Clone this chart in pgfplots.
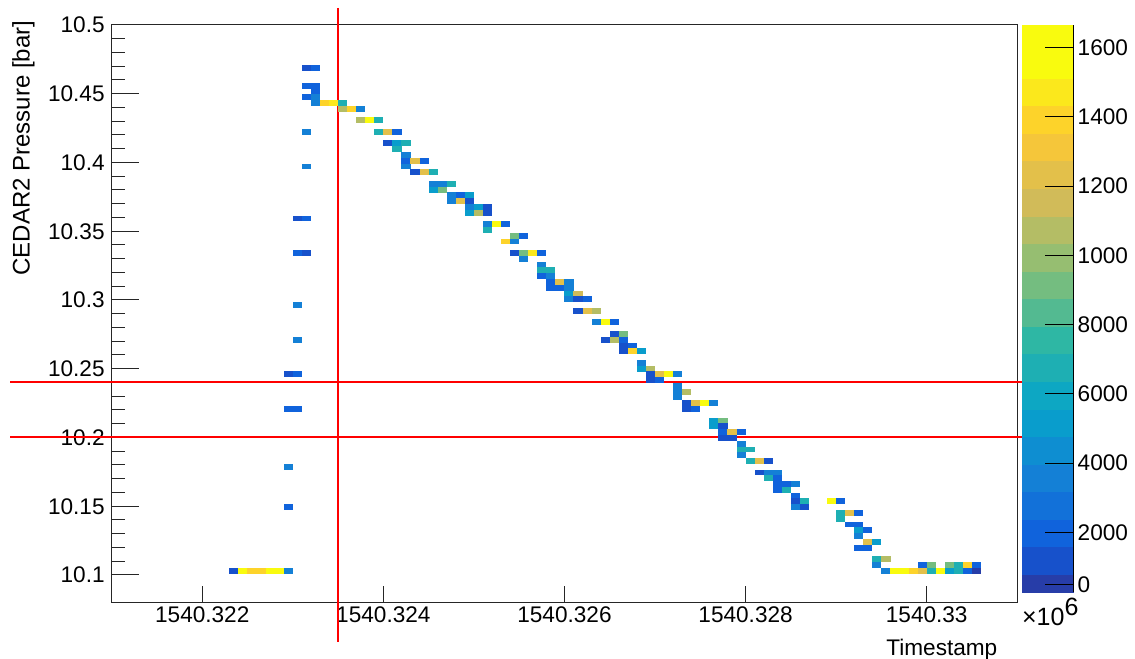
\documentclass[border=0pt]{standalone}
\usepackage{pgfplots}
\pgfplotsset{compat=1.18}
\usepackage{pgfplotstable}
\usepackage{fontspec}
\setmainfont{Liberation Sans}

\pgfdeclareplotmark{cell}{%
  \pgfpathrectangle{\pgfpoint{-2.29pt}{-1.47pt}}{\pgfpoint{4.58pt}{2.94pt}}%
  \pgfusepathqfill}

% x = timestamp - 1540320000 (s), y = pressure (bar), c = entries
\pgfplotstableread{
x y c
3150 10.4685 126
3250 10.4685 209
3150 10.4559 209
3250 10.4559 209
3250 10.4517 209
3150 10.4475 209
3250 10.4475 376
3250 10.4433 376
3350 10.4433 1378
3450 10.4433 1462
3550 10.4433 710
3550 10.4391 1044
3650 10.4391 1378
3750 10.4391 376
3150 10.4223 376
3150 10.3971 376
3050 10.3593 126
3150 10.3593 209
3050 10.3341 209
3150 10.3341 126
3050 10.2963 376
3050 10.2711 376
2950 10.2459 126
3050 10.2459 209
2950 10.2207 209
3050 10.2207 209
2950 10.1787 376
2950 10.1493 209
2350 10.1031 126
2450 10.1031 1545
2550 10.1031 1378
2650 10.1031 1378
2750 10.1031 1545
2850 10.1031 1545
2950 10.1031 376
3750 10.4307 1044
3850 10.4307 1628
3950 10.4307 710
3950 10.4223 710
4050 10.4223 1211
4150 10.4223 209
4050 10.4139 126
4150 10.4139 543
4250 10.4139 710
4150 10.4097 710
4250 10.4055 376
4250 10.4013 209
4350 10.4013 1211
4450 10.4013 209
4250 10.3971 376
4350 10.3929 126
4450 10.3929 1211
4550 10.3929 710
4550 10.3845 376
4650 10.3845 376
4750 10.3845 710
4550 10.3803 543
4650 10.3803 877
4750 10.3761 376
4850 10.3761 209
4950 10.3761 543
4750 10.3719 376
4850 10.3719 1211
4950 10.3719 126
4950 10.3677 376
5050 10.3677 543
5150 10.3677 126
4950 10.3635 543
5050 10.3635 1044
5150 10.3635 126
5150 10.3551 376
5250 10.3551 1545
5350 10.3551 209
5150 10.3509 710
5450 10.3467 877
5550 10.3467 209
5350 10.3425 1378
5450 10.3425 376
5450 10.3341 126
5550 10.3341 877
5650 10.3341 1462
5750 10.3341 209
5550 10.3299 376
5750 10.3257 376
5750 10.3215 710
5850 10.3215 710
5750 10.3173 209
5850 10.3173 376
5850 10.3131 209
5950 10.3131 1211
6050 10.3131 376
5850 10.3089 209
5950 10.3089 209
6050 10.3089 376
6050 10.3047 543
6150 10.3047 1128
6050 10.3005 376
6150 10.3005 126
6250 10.3005 209
6150 10.2921 126
6250 10.2921 1211
6350 10.2921 1044
6350 10.2837 376
6450 10.2837 1545
6550 10.2837 209
6550 10.2753 126
6650 10.2753 877
6450 10.2711 126
6550 10.2711 1044
6650 10.2711 209
6650 10.2669 126
6750 10.2669 209
6650 10.2627 126
6750 10.2627 1378
6850 10.2627 543
6850 10.2543 376
6850 10.2501 543
6950 10.2501 1044
6950 10.2459 126
7050 10.2459 1211
7150 10.2459 1545
7250 10.2459 376
6950 10.2417 126
7050 10.2417 209
7250 10.2375 376
7250 10.2333 376
7250 10.2291 376
7350 10.2333 1044
7350 10.2249 126
7450 10.2249 1211
7550 10.2249 1545
7650 10.2249 376
7350 10.2207 126
7450 10.2207 209
7650 10.2123 543
7750 10.2123 877
7650 10.2081 543
7750 10.2081 126
7750 10.2039 209
7850 10.2039 1211
7950 10.2039 209
7750 10.1997 126
7850 10.1997 126
7950 10.1955 376
7950 10.1913 710
8050 10.1913 710
7950 10.1871 376
8050 10.1829 710
8150 10.1829 1211
8250 10.1829 126
8150 10.1745 126
8250 10.1745 376
8350 10.1745 376
8250 10.1703 710
8350 10.1703 209
8350 10.1661 209
8450 10.1661 209
8550 10.1661 376
8350 10.1619 209
8450 10.1619 710
8550 10.1577 209
8550 10.1535 126
8650 10.1535 710
8550 10.1493 376
8650 10.1493 126
8950 10.1535 1545
9050 10.1535 209
9050 10.1451 710
9150 10.1451 1211
9250 10.1451 209
9050 10.1409 710
9150 10.1367 209
9250 10.1367 209
9250 10.1325 543
9350 10.1325 209
9250 10.1283 376
9350 10.1241 1211
9450 10.1241 543
9250 10.1199 209
9350 10.1199 209
9450 10.1115 710
9550 10.1115 1044
9450 10.1073 376
9950 10.1073 209
10050 10.1073 877
10250 10.1073 877
10350 10.1073 710
10450 10.1073 1378
10550 10.1073 209
9550 10.1031 376
9650 10.1031 1545
9750 10.1031 1628
9850 10.1031 1378
9950 10.1031 1211
10050 10.1031 710
10150 10.1031 1628
10250 10.1031 543
10350 10.1031 710
10450 10.1031 209
10550 10.1031 42
}\cells

\begin{document}
\begin{tikzpicture}
\begin{axis}[
  scale only axis, width=452.8pt, height=288.75pt,
  xmin=1000, xmax=11000, ymin=10.08, ymax=10.5,
  clip=false,
  axis line style={line width=0.5pt, black!85},
  tick style={black!85, line width=0.5pt},
  tick align=inside,
  xtick pos=left, ytick pos=left,
  xtick=\empty,
  extra x ticks={2000,4000,6000,8000,10000},
  extra x tick labels={1540.322,1540.324,1540.326,1540.328,1540.33},
  extra x tick style={major tick length=8.3pt},
  ytick={10.1,10.15,10.2,10.25,10.3,10.35,10.4,10.45,10.5},
  yticklabels={10.1,10.15,10.2,10.25,10.3,10.35,10.4,10.45,10.5},
  minor y tick num=4,
  major tick length=13.5pt, minor tick length=6.5pt,
  tick label style={font=\fontsize{11.3}{13}\selectfont},
  xticklabel style={yshift=1.5pt},
  xlabel={Timestamp},
  xlabel style={at={(axis description cs:0.9784,-0.0926)}, anchor=base east, inner sep=0pt, font=\fontsize{11.3}{13}\selectfont},
  ylabel={CEDAR2 Pressure [bar]},
  ylabel style={at={(axis description cs:-0.0847,1.008)}, anchor=south east, inner sep=0pt, font=\fontsize{12}{14}\selectfont},
  colormap={rootbird}{
    rgb=(.1519,.2395,.6575) rgb=(.0909,.3187,.7962) rgb=(.0629,.3883,.8625)
    rgb=(.0700,.4428,.8512) rgb=(.0777,.5018,.8390) rgb=(.0564,.5584,.8199)
    rgb=(.0340,.6148,.8007) rgb=(.0516,.6556,.7645) rgb=(.1158,.6867,.7036)
    rgb=(.1802,.7178,.6425) rgb=(.3237,.7307,.5702) rgb=(.4556,.7425,.5038)
    rgb=(.5869,.7460,.4433) rgb=(.7049,.7393,.3957) rgb=(.8214,.7337,.3475)
    rgb=(.8883,.7538,.2896) rgb=(.9607,.7757,.2270) rgb=(.9915,.8282,.1664)
    rgb=(.9837,.9087,.1079) rgb=(.9764,.9832,.0539) rgb=(.9764,.9832,.0539)
  },
  colormap access=piecewise constant,
  point meta min=0, point meta max=1670,
  colorbar right,
  colorbar style={
    scale only axis,
    at={(parent axis.north east)}, anchor=north west, xshift=-6.5pt,
    width=25.85pt, height=283.65pt,
    ymin=26.7, ymax=1665.6,
    axis x line=none, axis y line*=right,
    axis line style={line width=0.5pt, black},
    ytick={49.8,200,400,600,800,1000,1200,1400,1600},
    yticklabels={0,2000,4000,6000,8000,1000,1200,1400,1600},
    minor y tick num=0,
    major tick length=14pt, tick align=inside,
    tick style={black, line width=0.5pt},
    yticklabel style={font=\fontsize{11.3}{13}\selectfont, xshift=-1.2pt},
  },
]
\addplot[scatter, only marks, mark=cell, scatter src=explicit,
  scatter/use mapped color={draw=none, fill=mapped color}]
  table[x=x, y=y, meta=c] {\cells};
\addplot[color=red, line width=1pt, forget plot] coordinates {(3500,10.5124) (3500,10.0515)};
\addplot[color=red, line width=1pt, forget plot] coordinates {(-123,10.2402) (11505,10.2402)};
\addplot[color=red, line width=1pt, forget plot] coordinates {(-123,10.2002) (11505,10.2002)};
\node[anchor=base west, inner sep=0pt, font=\fontsize{12.5}{14}\selectfont] at (axis description cs:1.0049,-0.039) {×10\raisebox{5pt}{6}};
\coordinate (BL) at (axis description cs:-0.12335,-0.09784);
\coordinate (TR) at (axis description cs:1.13,1.04329);
\end{axis}
\pgfresetboundingbox
\path (BL) rectangle (TR);
\end{tikzpicture}
\end{document}
